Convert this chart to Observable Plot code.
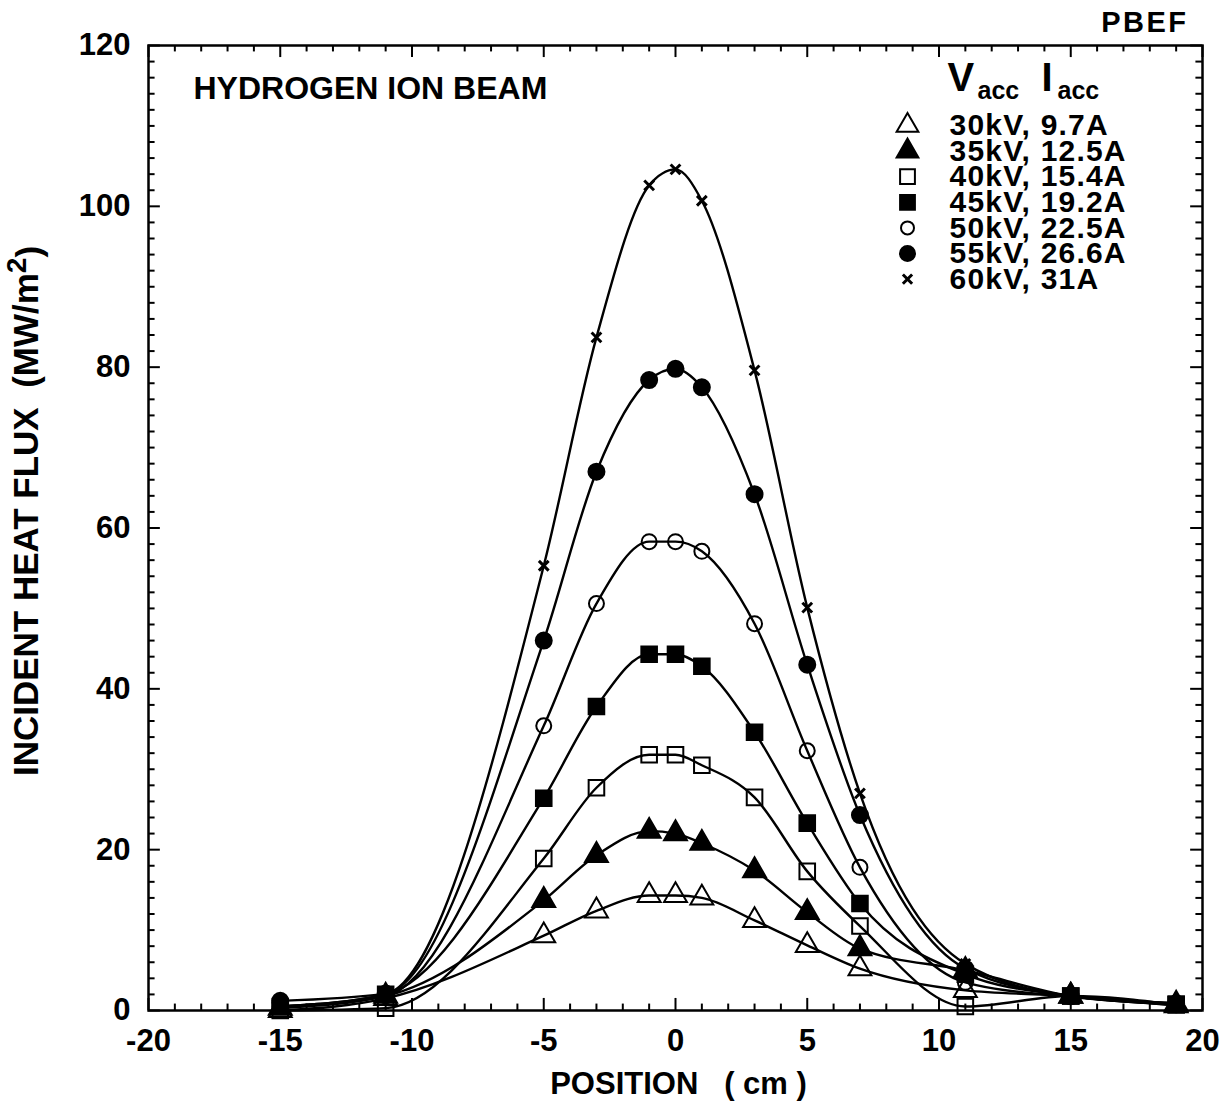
<!DOCTYPE html>
<html><head><meta charset="utf-8">
<script src="https://cdn.jsdelivr.net/npm/d3@7"></script>
<script src="https://cdn.jsdelivr.net/npm/@observablehq/plot@0.6"></script>
<style>
body{margin:0;background:#fff}
#chart{width:1224px;height:1104px}
</style>
</head><body><div id="chart"></div>
<script>
// ---- data ----
const positions = [-15, -11, -5, -3, -1, 0, 1, 3, 5, 7, 11, 15, 19];
const v30 = [0.0, 1.5, 9.3, 12.4, 14.3, 14.3, 14.0, 11.2, 8.1, 5.2, 2.5, 1.8, 0.6];
const v35 = [0.3, 1.8, 13.7, 19.3, 22.3, 22.0, 20.8, 17.4, 12.2, 7.7, 5.0, 1.8, 0.8];
const v40 = [0.0, 0.3, 18.9, 27.7, 31.8, 31.8, 30.5, 26.5, 17.3, 10.5, 0.5, 1.8, 0.7];
const v45 = [0.5, 2.0, 26.4, 37.8, 44.3, 44.3, 42.8, 34.6, 23.3, 13.3, 4.5, 1.8, 0.8];
const v50 = [0.5, 1.8, 35.4, 50.6, 58.3, 58.3, 57.1, 48.1, 32.3, 17.8, 3.5, 1.7, 0.7];
const v55 = [1.2, 2.1, 46.0, 67.0, 78.4, 79.8, 77.5, 64.2, 43.0, 24.3, 5.2, 1.8, 0.9];
const v60 = [0.5, 2.0, 55.3, 83.7, 102.6, 104.6, 100.7, 79.6, 50.1, 27.0, 5.8, 1.8, 0.9];
const seriesNames = ["30kV, 9.7A", "35kV, 12.5A", "40kV, 15.4A", "45kV, 19.2A", "50kV, 22.5A", "55kV, 26.6A", "60kV, 31A"];
const seriesValues = [v30, v35, v40, v45, v50, v55, v60];
const seriesSymbols = ["triangle", "triangle", "square", "square", "circle", "circle", "times"];
const seriesFilled = [false, true, false, true, false, true, true];
const xTicks = [-20, -15, -10, -5, 0, 5, 10, 15, 20];
const yTicks = [0, 20, 40, 60, 80, 100, 120];
const xMinor = d3.range(-20, 20.5, 1);
const yMinor = d3.range(0, 120.5, 2);

// ---- styles ----
const FONT = "'Liberation Sans', Arial, Helvetica, sans-serif";
const symR = {triangle: 8.5, square: 8.8, circle: 8, times: 4.5};
const ML = 148, MT = 45;

const rows = [];
seriesValues.forEach((vals, s) => vals.forEach((v, i) => rows.push({x: positions[i], y: v, s})));

const marks = [];
// frame ticks (inward)
marks.push(Plot.ruleX(xMinor, {x: d => d, y1: 0, y2: d => d % 5 === 0 ? 1.5 : 0.8, stroke: "black", strokeWidth: 2}));
marks.push(Plot.ruleX(xMinor, {x: d => d, y1: 120, y2: d => d % 5 === 0 ? 118.5 : 119.2, stroke: "black", strokeWidth: 2}));
marks.push(Plot.ruleY(yMinor, {y: d => d, x1: -20, x2: d => d % 20 === 0 ? -19.55 : -19.75, stroke: "black", strokeWidth: 2}));
marks.push(Plot.ruleY(yMinor, {y: d => d, x1: 20, x2: d => d % 20 === 0 ? 19.55 : 19.75, stroke: "black", strokeWidth: 2}));
marks.push(Plot.frame({stroke: "black", strokeWidth: 2.5}));

// curves
seriesValues.forEach((vals, s) => {
  marks.push(Plot.line(rows.filter(r => r.s === s), {x: "x", y: "y", curve: "monotone-x", stroke: "black", strokeWidth: 2.4}));
});
// markers
seriesValues.forEach((vals, s) => {
  const sym = seriesSymbols[s], f = seriesFilled[s];
  marks.push(Plot.dot(rows.filter(r => r.s === s), {
    x: "x", y: "y", symbol: sym, r: (sym === "circle" && !f) ? 7.5 : symR[sym],
    fill: f ? "black" : "none", stroke: "black", strokeWidth: sym === "times" ? 3 : 2
  }));
});

// axes
marks.push(Plot.axisX({ticks: xTicks, tickSize: 0, tickPadding: 18, tickFormat: d => String(d), fontSize: 31, fontWeight: "bold", label: null}));
marks.push(Plot.axisY({ticks: yTicks, tickSize: 0, tickPadding: 18, tickFormat: d => String(d), fontSize: 31, fontWeight: "bold", label: null}));

// axis titles
marks.push(Plot.text(["POSITION\u00a0\u00a0\u00a0( cm )"], {frameAnchor: "bottom", dx: 3, dy: 74, fontSize: 31, fontWeight: "bold", textAnchor: "middle", lineAnchor: "middle"}));
marks.push(Plot.text(["YLABEL"], {frameAnchor: "left", dx: -122, dy: -17, rotate: -90, fontSize: 35, fontWeight: "bold", textAnchor: "middle", lineAnchor: "middle"}));
// titles
marks.push(Plot.text(["HYDROGEN ION BEAM"], {frameAnchor: "top-left", dx: 45, dy: 43, fontSize: 32, fontWeight: "bold", textAnchor: "start", lineAnchor: "middle"}));
marks.push(Plot.text(["PBEF"], {frameAnchor: "top-right", dx: -14, dy: -23, fontSize: 29, fontWeight: "bold", textAnchor: "end", lineAnchor: "middle"}));

// legend header
const hdr = [
  {t: "V", x: 947, y: 78, fs: 40},
  {t: "acc", x: 977, y: 90, fs: 25},
  {t: "I", x: 1041, y: 78, fs: 40},
  {t: "acc", x: 1057, y: 90, fs: 25}
];
hdr.forEach(h => marks.push(Plot.text([h.t], {frameAnchor: "top-left", dx: h.x - ML, dy: h.y - MT, fontSize: h.fs, fontWeight: "bold", textAnchor: "start", lineAnchor: "middle"})));
// legend entries
seriesNames.forEach((name, s) => {
  const yy = 125 + 25.6 * s;
  const sym = seriesSymbols[s], f = seriesFilled[s];
  marks.push(Plot.dot([name], {frameAnchor: "top-left", dx: 907 - ML, dy: yy - MT, symbol: sym,
    r: (sym === "circle" && !f) ? 6.5 : (sym === "circle" ? 7.5 : symR[sym] * 0.95),
    fill: f ? "black" : "none", stroke: "black", strokeWidth: sym === "times" ? 3 : 2}));
  marks.push(Plot.text([name], {frameAnchor: "top-left", dx: 949 - ML, dy: yy - MT, fontSize: 30, fontWeight: "bold", textAnchor: "start", lineAnchor: "middle"}));
});

const chart = Plot.plot({
  width: 1224, height: 1104,
  marginLeft: ML, marginRight: 22, marginTop: MT, marginBottom: 94,
  x: {domain: [-20, 20], axis: null},
  y: {domain: [0, 120], axis: null},
  style: {fontFamily: FONT, color: "black", background: "white", overflow: "visible"},
  marks
});
document.getElementById("chart").appendChild(chart);

const allText = d3.select(chart).selectAll("text");
// letter spacing for legend rows and PBEF
allText.filter(function() { return seriesNames.includes(this.textContent); }).style("letter-spacing", "1.2px");
allText.filter(function() { return this.textContent === "PBEF"; }).style("letter-spacing", "2.5px");
// rich y label with superscript
allText.filter(function() { return this.textContent === "YLABEL"; })
  .each(function() {
    const t = d3.select(this);
    t.text(null);
    t.append("tspan").text("INCIDENT HEAT FLUX\u00a0\u00a0(MW/m");
    t.append("tspan").attr("dy", "-0.42em").attr("font-size", 28).text("2");
    t.append("tspan").attr("dy", "0.42em").text(")");
  });
</script>
</body></html>
